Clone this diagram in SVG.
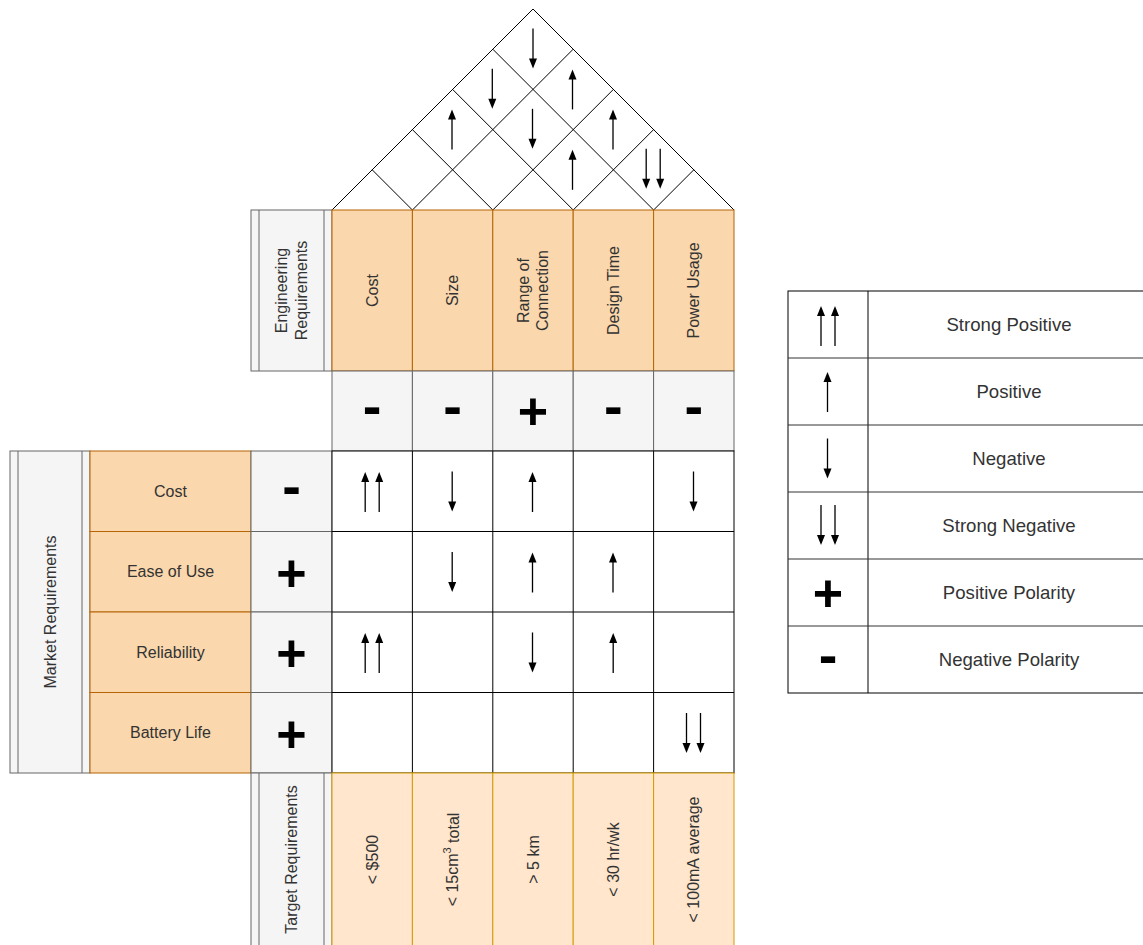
<svg xmlns="http://www.w3.org/2000/svg" xmlns:xlink="http://www.w3.org/1999/xlink" width="1143" height="945" viewBox="0 0 1143 945">
<style>
  text { font-family: "Liberation Sans", Arial, sans-serif; }
  .lbl { font-size: 16px; fill: #333333; text-anchor: middle; dominant-baseline: central; }
  .leg { font-size: 18.6px; fill: #333333; text-anchor: middle; dominant-baseline: central; }
  .plus { font-size: 52px; font-weight: bold; fill: #000; text-anchor: middle; }
  .minus { font-size: 56px; font-weight: bold; fill: #000; text-anchor: middle; }
  .hdr { fill: #fad7ac; stroke: #b46504; stroke-width: 1; }
  .tgt { fill: #ffe6cc; stroke: #d79b00; stroke-width: 1; }
  .gry { fill: #f5f5f5; stroke: #666666; stroke-width: 1; }
  .cell { fill: #ffffff; stroke: #000000; stroke-width: 1; }
  .roof { fill: none; stroke: #000000; stroke-width: 1; }
  .gl { stroke: #666666; stroke-width: 1; fill: none; }
</style>
<defs>
  <g id="aup"><line x1="0" y1="20" x2="0" y2="-11" stroke="#000" stroke-width="1.3"/><path d="M-4,-10 L0,-20 L4,-10 Z" fill="#000"/></g>
  <g id="adn"><line x1="0" y1="-20" x2="0" y2="11" stroke="#000" stroke-width="1.3"/><path d="M-4,10 L0,20 L4,10 Z" fill="#000"/></g>
  <g id="aup2"><use xlink:href="#aup" href="#aup" x="-7" y="0"/><use xlink:href="#aup" href="#aup" x="7" y="0"/></g>
  <g id="adn2"><use xlink:href="#adn" href="#adn" x="-7" y="0"/><use xlink:href="#adn" href="#adn" x="7" y="0"/></g>
</defs>
<rect width="1143" height="945" fill="#ffffff"/>

<!-- Roof -->
<g id="roof">
  <path class="roof" d="M332,210 L533,9 L734,210"/>
  <!-- up-right lines -->
  <line class="roof" x1="412.4" y1="210" x2="573.2" y2="49.2"/>
  <line class="roof" x1="492.8" y1="210" x2="613.4" y2="89.4"/>
  <line class="roof" x1="573.2" y1="210" x2="653.6" y2="129.6"/>
  <line class="roof" x1="653.6" y1="210" x2="693.8" y2="169.8"/>
  <!-- up-left lines -->
  <line class="roof" x1="412.4" y1="210" x2="372.2" y2="169.8"/>
  <line class="roof" x1="492.8" y1="210" x2="412.4" y2="129.6"/>
  <line class="roof" x1="573.2" y1="210" x2="452.6" y2="89.4"/>
  <line class="roof" x1="653.6" y1="210" x2="492.8" y2="49.2"/>
  <use href="#adn" xlink:href="#adn" x="533" y="48.5"/>
  <use href="#adn" xlink:href="#adn" x="492.3" y="88.8"/>
  <use href="#aup" xlink:href="#aup" x="572.5" y="89.4"/>
  <use href="#aup" xlink:href="#aup" x="452" y="129.6"/>
  <use href="#adn" xlink:href="#adn" x="532.5" y="128.8"/>
  <use href="#aup" xlink:href="#aup" x="613" y="129.6"/>
  <use href="#aup" xlink:href="#aup" x="572.5" y="169.8"/>
  <use href="#adn2" xlink:href="#adn2" x="653.2" y="168.8"/>
</g>

<!-- Engineering requirements header -->
<g id="eng-req">
  <rect class="gry" x="251" y="210" width="81" height="161"/>
  <line class="gl" x1="259" y1="210" x2="259" y2="371"/>
  <line class="gl" x1="324" y1="210" x2="324" y2="371"/>
  <g transform="translate(291.5,290.5) rotate(-90)">
    <text class="lbl" x="0" y="-9.6">Engineering</text>
    <text class="lbl" x="0" y="9.6">Requirements</text>
  </g>
</g>
<g id="eng-cols">
  <rect class="hdr" x="332" y="210" width="80.4" height="161"/>
  <rect class="hdr" x="412.4" y="210" width="80.4" height="161"/>
  <rect class="hdr" x="492.8" y="210" width="80.4" height="161"/>
  <rect class="hdr" x="573.2" y="210" width="80.4" height="161"/>
  <rect class="hdr" x="653.6" y="210" width="80.4" height="161"/>
  <text class="lbl" transform="translate(372.2,290.5) rotate(-90)">Cost</text>
  <text class="lbl" transform="translate(452.6,290.5) rotate(-90)">Size</text>
  <g transform="translate(533,290.5) rotate(-90)">
    <text class="lbl" x="0" y="-9.6">Range of</text>
    <text class="lbl" x="0" y="9.6">Connection</text>
  </g>
  <text class="lbl" transform="translate(613.4,290.5) rotate(-90)">Design Time</text>
  <text class="lbl" transform="translate(693.8,290.5) rotate(-90)">Power Usage</text>
</g>

<!-- Engineering polarity row -->
<g id="eng-polarity">
  <rect class="gry" x="332" y="371" width="80.4" height="80"/>
  <rect class="gry" x="412.4" y="371" width="80.4" height="80"/>
  <rect class="gry" x="492.8" y="371" width="80.4" height="80"/>
  <rect class="gry" x="573.2" y="371" width="80.4" height="80"/>
  <rect class="gry" x="653.6" y="371" width="80.4" height="80"/>
  <text class="minus" x="372.2" y="425">-</text>
  <text class="minus" x="452.6" y="425">-</text>
  <text class="plus" x="533" y="429">+</text>
  <text class="minus" x="613.4" y="425">-</text>
  <text class="minus" x="693.8" y="425">-</text>
</g>

<!-- Market requirements -->
<g id="market-req">
  <rect class="gry" x="10" y="451" width="80" height="322"/>
  <line class="gl" x1="18" y1="451" x2="18" y2="773"/>
  <line class="gl" x1="82" y1="451" x2="82" y2="773"/>
  <text class="lbl" transform="translate(50,612) rotate(-90)">Market Requirements</text>
</g>
<g id="market-rows">
  <rect class="hdr" x="90" y="451" width="161" height="80.5"/>
  <rect class="hdr" x="90" y="531.5" width="161" height="80.5"/>
  <rect class="hdr" x="90" y="612" width="161" height="80.5"/>
  <rect class="hdr" x="90" y="692.5" width="161" height="80.5"/>
  <text class="lbl" x="170.5" y="491.25">Cost</text>
  <text class="lbl" x="170.5" y="571.75">Ease of Use</text>
  <text class="lbl" x="170.5" y="652.25">Reliability</text>
  <text class="lbl" x="170.5" y="732.75">Battery Life</text>
</g>
<g id="market-polarity">
  <rect class="gry" x="251" y="451" width="81" height="80.5"/>
  <rect class="gry" x="251" y="531.5" width="81" height="80.5"/>
  <rect class="gry" x="251" y="612" width="81" height="80.5"/>
  <rect class="gry" x="251" y="692.5" width="81" height="80.5"/>
  <text class="minus" x="291.5" y="505">-</text>
  <text class="plus" x="291.5" y="590.5">+</text>
  <text class="plus" x="291.5" y="671">+</text>
  <text class="plus" x="291.5" y="751.5">+</text>
</g>

<!-- Relationship matrix -->
<g id="matrix">
  <rect class="cell" x="332" y="451" width="402" height="322"/>
  <line class="cell" x1="412.4" y1="451" x2="412.4" y2="773"/>
  <line class="cell" x1="492.8" y1="451" x2="492.8" y2="773"/>
  <line class="cell" x1="573.2" y1="451" x2="573.2" y2="773"/>
  <line class="cell" x1="653.6" y1="451" x2="653.6" y2="773"/>
  <line class="cell" x1="332" y1="531.5" x2="734" y2="531.5"/>
  <line class="cell" x1="332" y1="612" x2="734" y2="612"/>
  <line class="cell" x1="332" y1="692.5" x2="734" y2="692.5"/>
  <use href="#aup2" xlink:href="#aup2" x="372.2" y="492"/>
  <use href="#adn" xlink:href="#adn" x="452.2" y="491.5"/>
  <use href="#aup" xlink:href="#aup" x="532.5" y="492"/>
  <use href="#adn" xlink:href="#adn" x="693.5" y="491.5"/>
  <use href="#adn" xlink:href="#adn" x="452.2" y="572"/>
  <use href="#aup" xlink:href="#aup" x="532.5" y="572.5"/>
  <use href="#aup" xlink:href="#aup" x="613" y="572.5"/>
  <use href="#aup2" xlink:href="#aup2" x="372.2" y="653"/>
  <use href="#adn" xlink:href="#adn" x="532.5" y="652.5"/>
  <use href="#aup" xlink:href="#aup" x="613.2" y="653"/>
  <use href="#adn2" xlink:href="#adn2" x="693.5" y="733"/>
</g>

<!-- Target requirements -->
<g id="target-req">
  <rect class="gry" x="251" y="773" width="81" height="173"/>
  <line class="gl" x1="259" y1="773" x2="259" y2="946"/>
  <line class="gl" x1="324" y1="773" x2="324" y2="946"/>
  <text class="lbl" transform="translate(291.5,859.5) rotate(-90)">Target Requirements</text>
</g>
<g id="target-values">
  <rect class="tgt" x="332" y="773" width="80.4" height="173"/>
  <rect class="tgt" x="412.4" y="773" width="80.4" height="173"/>
  <rect class="tgt" x="492.8" y="773" width="80.4" height="173"/>
  <rect class="tgt" x="573.2" y="773" width="80.4" height="173"/>
  <rect class="tgt" x="653.6" y="773" width="80.4" height="173"/>
  <text class="lbl" transform="translate(372.2,859.5) rotate(-90)">&lt; $500</text>
  <text class="lbl" transform="translate(452.6,859.5) rotate(-90)">&lt; 15cm<tspan font-size="11" dy="-6">3</tspan><tspan dy="6"> total</tspan></text>
  <text class="lbl" transform="translate(533,859.5) rotate(-90)">&gt; 5 km</text>
  <text class="lbl" transform="translate(613.4,859.5) rotate(-90)">&lt; 30 hr/wk</text>
  <text class="lbl" transform="translate(693.8,859.5) rotate(-90)">&lt; 100mA average</text>
</g>

<!-- Legend -->
<g id="legend">
  <rect x="788" y="291" width="362" height="402" fill="#ffffff" stroke="#000" stroke-width="1"/>
  <line x1="868" y1="291" x2="868" y2="693" stroke="#000" stroke-width="1"/>
  <line x1="788" y1="358" x2="1150" y2="358" stroke="#333" stroke-width="1"/>
  <line x1="788" y1="425" x2="1150" y2="425" stroke="#333" stroke-width="1"/>
  <line x1="788" y1="492" x2="1150" y2="492" stroke="#333" stroke-width="1"/>
  <line x1="788" y1="559" x2="1150" y2="559" stroke="#333" stroke-width="1"/>
  <line x1="788" y1="626" x2="1150" y2="626" stroke="#333" stroke-width="1"/>
  <use href="#aup2" xlink:href="#aup2" x="828" y="326"/>
  <use href="#aup" xlink:href="#aup" x="827.5" y="392"/>
  <use href="#adn" xlink:href="#adn" x="827.5" y="458.5"/>
  <use href="#adn2" xlink:href="#adn2" x="828" y="525"/>
  <text class="plus" x="828" y="611">+</text>
  <text class="minus" x="828" y="674">-</text>
  <text class="leg" x="1009" y="324.5">Strong Positive</text>
  <text class="leg" x="1009" y="391.5">Positive</text>
  <text class="leg" x="1009" y="458.5">Negative</text>
  <text class="leg" x="1009" y="525.5">Strong Negative</text>
  <text class="leg" x="1009" y="592.5">Positive Polarity</text>
  <text class="leg" x="1009" y="659.5">Negative Polarity</text>
</g>
</svg>
